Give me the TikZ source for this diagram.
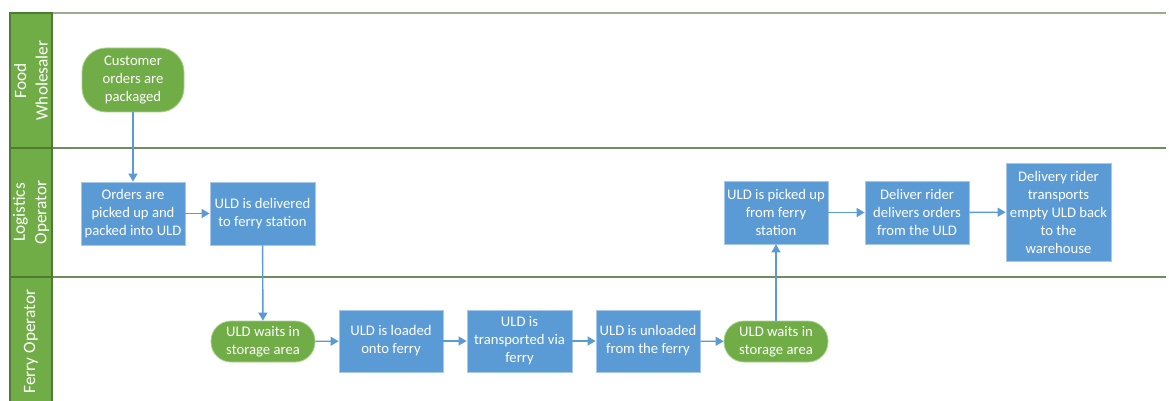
\documentclass[tikz,border=0pt]{standalone}
\usepackage{fontspec}
\setmainfont{Carlito}
\usetikzlibrary{arrows.meta}
\definecolor{stepblue}{HTML}{5B9BD5}
\definecolor{stepblueedge}{HTML}{A7C8EA}
\definecolor{termgreen}{HTML}{70AD47}
\definecolor{termgreenedge}{HTML}{A9D18E}
\definecolor{lanehead}{HTML}{70AD47}
\definecolor{laneheadedge}{HTML}{4F7A33}
\definecolor{laneline}{HTML}{6E8C5E}
\definecolor{flow}{HTML}{5B9BD5}
\tikzset{
  x=1pt, y=-1pt,
  stepbox/.style={rectangle, fill=stepblue, draw=stepblueedge, line width=0.8pt,
    text=white, align=center, inner sep=0pt,
    font=\fontsize{14.67}{18}\selectfont},
  terminal/.style={rectangle, rounded corners=20pt, fill=termgreen, draw=termgreenedge,
    line width=0.8pt, text=white, align=center, inner sep=0pt,
    font=\fontsize{14.67}{18}\selectfont},
  headtext/.style={rotate=90, text=white, align=center, inner sep=0pt,
    font=\fontsize{17.3}{21.5}\selectfont},
  flowline/.style={draw=flow, line width=1.4pt,
    -{Triangle[length=8pt, width=9pt]}},
}
\begin{document}
\begin{tikzpicture}
\useasboundingbox (0,0) rectangle (1169,401);
\clip (0,0) rectangle (1169,401);
\fill[white] (0,0) rectangle (1169,401);

% swimlane frame and lane dividers
\draw[laneline!70, line width=1.2pt] (52,13) -- (1166,13);
\draw[laneline, line width=1.5pt] (52,148) -- (1166,148);
\draw[laneline, line width=1.5pt] (52,277) -- (1166,277);

% lane headers
\draw[fill=lanehead, draw=laneheadedge, line width=1.2pt] (10,13) rectangle (52,148);
\draw[fill=lanehead, draw=laneheadedge, line width=1.2pt] (10,148) rectangle (52,277);
\draw[fill=lanehead, draw=laneheadedge, line width=1.2pt] (10,277) rectangle (52,408);
\node[headtext] (hfood) at (31,80.5) {Food\\Wholesaler};
\node[headtext] (hlog) at (31,212.5) {Logistics\\Operator};
\node[headtext] (hferry) at (31,341.5) {Ferry Operator};

% Food Wholesaler lane
\node[terminal, rounded corners=24pt, minimum width=102pt, minimum height=64pt] (cust) at (133,80) {Customer\\orders are\\packaged};

% Logistics Operator lane
\node[stepbox, minimum width=104pt, minimum height=63pt] (picked) at (133,213.5) {Orders are\\picked up and\\packed into ULD};
\node[stepbox, minimum width=105pt, minimum height=63pt] (toferry) at (262.5,213.5) {ULD is delivered\\to ferry station};
\node[stepbox, minimum width=104pt, minimum height=63pt] (pickup) at (776,212.5) {ULD is picked up\\from ferry\\station};
\node[stepbox, minimum width=104pt, minimum height=63pt] (rider) at (917,212.5) {Deliver rider\\delivers orders\\from the ULD};
\node[stepbox, minimum width=105pt, minimum height=98pt] (back) at (1058.5,212) {Delivery rider\\transports\\empty ULD back\\to the\\warehouse};

% Ferry Operator lane
\node[terminal, minimum width=104pt, minimum height=41pt] (wait1) at (263,341.5) {ULD waits in\\storage area};
\node[stepbox, minimum width=104pt, minimum height=62pt] (load) at (391,341) {ULD is loaded\\onto ferry};
\node[stepbox, minimum width=105pt, minimum height=62pt] (trans) at (519.5,341) {ULD is\\transported via\\ferry};
\node[stepbox, minimum width=104pt, minimum height=62pt] (unload) at (648,341) {ULD is unloaded\\from the ferry};
\node[terminal, minimum width=104pt, minimum height=41pt] (wait2) at (776,341.5) {ULD waits in\\storage area};

% flow connectors
\draw[flowline] (cust) -- (picked);
\draw[flowline] (picked) -- (toferry);
\draw[flowline] (toferry) -- (wait1);
\draw[flowline] (wait1) -- (load);
\draw[flowline] (load) -- (trans);
\draw[flowline] (trans) -- (unload);
\draw[flowline] (unload) -- (wait2);
\draw[flowline] (wait2) -- (pickup);
\draw[flowline] (pickup) -- (rider);
\draw[flowline] (rider) -- (back);
\end{tikzpicture}
\end{document}
